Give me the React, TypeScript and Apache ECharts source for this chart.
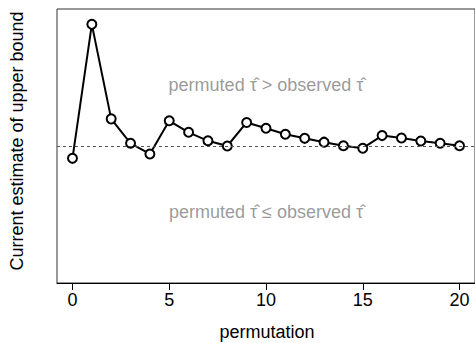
import React, { useEffect, useRef } from "react";
import * as echarts from "echarts";

const permutations = [0, 1, 2, 3, 4, 5, 6, 7, 8, 9, 10, 11, 12, 13, 14, 15, 16, 17, 18, 19, 20];
const upperBound = [45.5, 94.4, 59.9, 51.0, 47.1, 59.2, 55.0, 51.9, 50.0, 58.6, 56.5, 54.3, 52.8, 51.4, 50.1, 49.2, 53.8, 52.9, 51.8, 51.0, 50.1];
const observedLine = 50;
const xTicks = [0, 5, 10, 15, 20];
const annotations = [
  { x: 10, y: 72.3, text: "permuted \u03C4\u0302 > observed \u03C4\u0302" },
  { x: 10, y: 25.9, text: "permuted \u03C4\u0302 \u2264 observed \u03C4\u0302" },
];

export default function App() {
  const ref = useRef<HTMLDivElement>(null);
  useEffect(() => {
    if (!ref.current) return;
    const chart = echarts.init(ref.current, null, { renderer: "svg" });
    const font = "'Liberation Sans', Arial, sans-serif";
    chart.setOption({
      animation: false,
      backgroundColor: "#ffffff",
      textStyle: { fontFamily: font },
      grid: {
        left: 57,
        top: 9,
        width: 420,
        height: 274,
        show: true,
        borderColor: "#333",
        borderWidth: 1,
        backgroundColor: "transparent",
      },
      xAxis: {
        type: "value",
        min: -0.8,
        max: 20.8,
        splitLine: { show: false },
        axisLine: { show: true, lineStyle: { color: "#000", width: 1 } },
        axisTick: { show: true, length: 7, customValues: xTicks, lineStyle: { color: "#000" } },
        axisLabel: {
          customValues: xTicks,
          color: "#000",
          fontSize: 18,
          fontFamily: font,
          margin: 8,
        },
      },
      yAxis: {
        type: "value",
        min: 0,
        max: 100,
        show: false,
        splitLine: { show: false },
      },
      graphic: [
        {
          type: "text",
          x: 17,
          y: 141,
          rotation: Math.PI / 2,
          style: {
            text: "Current estimate of upper bound",
            fontSize: 18,
            fontFamily: font,
            fill: "#000",
            textAlign: "center",
            textVerticalAlign: "middle",
          },
        },
        {
          type: "text",
          x: 267,
          y: 332,
          style: {
            text: "permutation",
            fontSize: 18,
            fontFamily: font,
            fill: "#000",
            textAlign: "center",
            textVerticalAlign: "middle",
          },
        },
      ],
      series: [
        {
          type: "scatter",
          data: annotations.map((a) => ({ value: [a.x, a.y], name: a.text })),
          symbolSize: 0,
          silent: true,
          label: {
            show: true,
            position: "inside",
            formatter: (p: any) => p.name,
            color: "#7f7f7f",
            fontSize: 18,
            fontWeight: "normal",
            textBorderWidth: 0,
            textBorderColor: "transparent",
            fontFamily: font,
          },
        },
        {
          type: "line",
          data: permutations.map((p, i) => [p, upperBound[i]]),
          symbol: "circle",
          symbolSize: 9,
          showAllSymbol: true,
          lineStyle: { color: "#000", width: 2 },
          itemStyle: { color: "#fff", borderColor: "#000", borderWidth: 2 },
          z: 3,
          markLine: {
            silent: true,
            symbol: "none",
            label: { show: false },
            lineStyle: { color: "#555", type: [3, 3], width: 1 },
            data: [{ yAxis: observedLine }],
          },
        },
      ],
    });
    return () => chart.dispose();
  }, []);
  return (
    <div
      ref={ref}
      style={{ position: "fixed", left: 0, top: 0, width: 475, height: 343, background: "#fff" }}
    />
  );
}
